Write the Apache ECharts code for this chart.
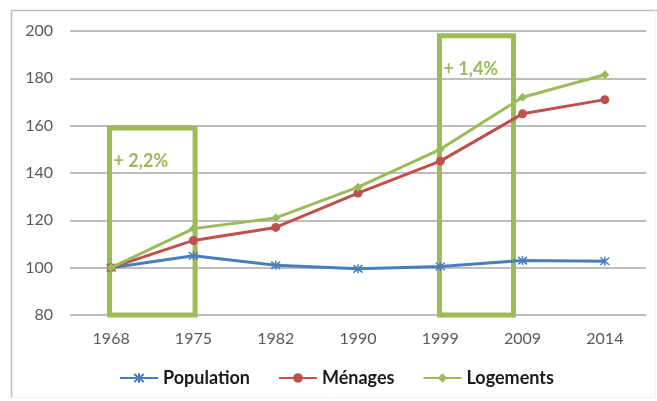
<!DOCTYPE html>
<html>
<head>
<meta charset="utf-8">
<script src="https://cdn.jsdelivr.net/npm/echarts@6/dist/echarts.min.js"></script>
<style>
  html, body { margin: 0; padding: 0; background: #ffffff; }
  #chart { width: 657px; height: 401px; }
</style>
</head>
<body>
<div id="chart"></div>
<script>
// Census years and indexed values (base 100 in 1968)
var years = ['1968', '1975', '1982', '1990', '1999', '2009', '2014'];
var population = [100, 105, 101, 99.5, 100.5, 103, 102.7];
var menages = [100, 111.5, 117, 131.5, 145, 165, 171];
var logements = [100, 116.5, 121, 134, 150, 172, 181.5];

// Highlighted periods: [from index, to index, top value, bottom value, annual growth label]
var periodBoxes = [
  [-0.02, 1.02, 159, 80, '+ 2,2%'],
  [3.99, 4.89, 198, 80, '+ 1,4%']
];

var FONT = 'Lato, "Noto Sans", sans-serif';
var GREEN = '#9bbb59';
var ASTERISK = 'path://M0,0L10,10M10,0L0,10M5,-1L5,11';

var chart = echarts.init(document.getElementById('chart'), null, { renderer: 'canvas' });

chart.setOption({
  animation: false,
  backgroundColor: '#ffffff',
  textStyle: { fontFamily: FONT },
  graphic: [
    { type: 'line', shape: { x1: 11.5, y1: 10.5, x2: 657, y2: 10.5 }, style: { stroke: '#bdbdbd', lineWidth: 1.5 } },
    { type: 'line', shape: { x1: 11.5, y1: 10.5, x2: 11.5, y2: 398 }, style: { stroke: '#bdbdbd', lineWidth: 1.5 } },
    { type: 'line', shape: { x1: 655.5, y1: 10.5, x2: 655.5, y2: 398 }, style: { stroke: '#f2f2f2', lineWidth: 1 } },
    { type: 'line', shape: { x1: 11.5, y1: 397.5, x2: 656, y2: 397.5 }, style: { stroke: '#f0f0f0', lineWidth: 1 } }
  ],
  grid: { left: 70, right: 11, top: 31, bottom: 86 },
  legend: {
    left: 114,
    top: 364,
    itemWidth: 38,
    itemHeight: 12,
    itemGap: 28,
    textStyle: { fontFamily: FONT, fontSize: 18, fontWeight: 'bold', color: '#1a1a1a' },
    data: ['Population', 'Ménages', 'Logements']
  },
  xAxis: [
    {
      type: 'category',
      data: years,
      boundaryGap: true,
      axisLine: { show: false },
      axisTick: { show: false },
      axisLabel: { color: '#595959', fontSize: 16, margin: 16, fontFamily: FONT }
    },
    {
      type: 'value',
      min: -0.5,
      max: 6.5,
      show: false
    }
  ],
  yAxis: {
    type: 'value',
    min: 80,
    max: 200,
    interval: 20,
    axisLine: { show: false },
    axisTick: { show: false },
    axisLabel: { color: '#595959', fontSize: 16, margin: 17, fontFamily: FONT },
    splitLine: { lineStyle: { color: '#a8a8a8', width: 1.5 } }
  },
  series: [
    {
      name: 'periods',
      type: 'custom',
      xAxisIndex: 1,
      z: 1,
      silent: true,
      data: periodBoxes,
      renderItem: function (params, api) {
        var p0 = api.coord([api.value(0), api.value(2)]);
        var p1 = api.coord([api.value(1), api.value(3)]);
        return {
          type: 'group',
          children: [
            {
              type: 'rect',
              shape: { x: p0[0], y: p0[1], width: p1[0] - p0[0], height: p1[1] - p0[1] },
              style: { fill: 'none', stroke: GREEN, lineWidth: 5 }
            },
            {
              type: 'text',
              style: {
                x: p0[0] + 4,
                y: p0[1] + 33,
                text: periodBoxes[params.dataIndex][4],
                fill: GREEN,
                font: 'bold 18px ' + FONT,
                verticalAlign: 'middle'
              }
            }
          ]
        };
      }
    },
    {
      name: 'Population',
      type: 'line',
      data: population,
      z: 3,
      symbol: ASTERISK,
      symbolSize: 9,
      color: '#4a7ebb',
      lineStyle: { color: '#4a7ebb', width: 3 },
      itemStyle: { color: '#4a7ebb', borderColor: '#4a7ebb', borderWidth: 1.5 }
    },
    {
      name: 'Ménages',
      type: 'line',
      data: menages,
      z: 4,
      symbol: 'circle',
      symbolSize: 9,
      color: '#c0504d',
      lineStyle: { color: '#c0504d', width: 3 },
      itemStyle: { color: '#c0504d' }
    },
    {
      name: 'Logements',
      type: 'line',
      data: logements,
      z: 5,
      symbol: 'diamond',
      symbolSize: 9,
      color: GREEN,
      lineStyle: { color: GREEN, width: 3 },
      itemStyle: { color: GREEN }
    }
  ]
});
</script>
</body>
</html>
